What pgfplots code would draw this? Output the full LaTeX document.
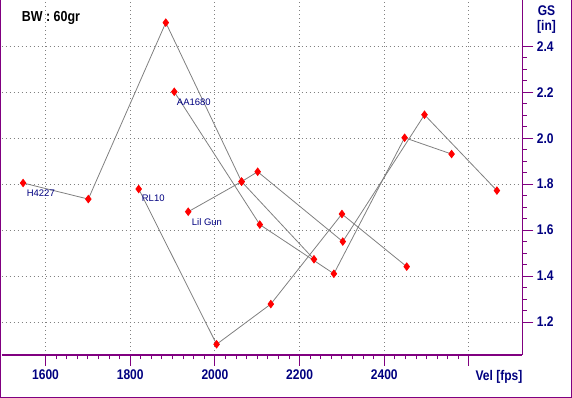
\documentclass[border=0pt]{standalone}
\usepackage{fontspec}
\setmainfont{Liberation Sans}
\newfontfamily\tickfont[FakeStretch=0.86]{Liberation Sans}
\usepackage{pgfplots}
\pgfplotsset{compat=1.18}
\definecolor{framec}{HTML}{800080}
\definecolor{navyc}{HTML}{000080}
\definecolor{linec}{HTML}{808080}
\begin{document}
\begin{tikzpicture}[x=1pt,y=1pt]
\path[use as bounding box] (0,0) rectangle (572,398);
\draw[framec, line width=1.3pt] (0.65,398) -- (0.65,0.65) -- (571.35,0.65) -- (571.35,398);
\begin{axis}[
  at={(1.5pt,43pt)}, anchor=south west,
  scale only axis, width=520.8pt, height=355pt,
  xmin=1496, xmax=2726, ymin=1.0564, ymax=2.6015,
  axis x line=bottom, axis y line=right,
  axis line style={framec, line width=1.3pt, -},
  xtick={1600,1800,2000,2200,2400,2600},
  xticklabels={1600,1800,2000,2200,2400,{}},
  ytick={1.2,1.4,1.6,1.8,2.0,2.2,2.4},
  minor x tick num=7, minor y tick num=3,
  tick align=outside,
  major tick length=11pt, minor tick length=4.5pt,
  every tick/.style={framec, line width=1pt},
  grid=major,
  major grid style={linec, dash pattern=on 1.2pt off 2.8pt, line width=1pt},
  /pgf/number format/assume math mode=true,
  ticklabel style={font=\tickfont\fontsize{14}{15}\selectfont\bfseries, text=navyc},
  yticklabel style={/pgf/number format/fixed, /pgf/number format/fixed zerofill, /pgf/number format/precision=1},
  clip=false,
]
\addplot[linec, line width=0.8pt, mark=diamond*, mark size=3.7pt, mark options={draw=red, fill=red, solid}] coordinates {
 (1547,1.805) (1701,1.735) (1884,2.503) (2063,1.811) (2234,1.473)};
\addplot[linec, line width=0.8pt, mark=diamond*, mark size=3.7pt, mark options={draw=red, fill=red, solid}] coordinates {
 (1904,2.202) (2106,1.624) (2281,1.410) (2448,2.002) (2559,1.931)};
\addplot[linec, line width=0.8pt, mark=diamond*, mark size=3.7pt, mark options={draw=red, fill=red, solid}] coordinates {
 (1937,1.680) (2063,1.811) (2101,1.854) (2302,1.550) (2495,2.102) (2666,1.772)};
\addplot[linec, line width=0.8pt, mark=diamond*, mark size=3.7pt, mark options={draw=red, fill=red, solid}] coordinates {
 (1820,1.779) (2004,1.103) (2132,1.278) (2300,1.670) (2453,1.441)};
\node[anchor=north west, inner sep=0pt, xshift=3.5pt, yshift=-6.5pt, font=\fontsize{9.5}{10}\selectfont, text=navyc] at (axis cs:1547,1.805) {H4227};
\node[anchor=north west, inner sep=0pt, xshift=2.5pt, yshift=-6.5pt, font=\fontsize{9.5}{10}\selectfont, text=navyc] at (axis cs:1904,2.202) {AA1680};
\node[anchor=north west, inner sep=0pt, xshift=3.5pt, yshift=-6.5pt, font=\fontsize{9.5}{10}\selectfont, text=navyc] at (axis cs:1937,1.680) {Lil Gun};
\node[anchor=north west, inner sep=0pt, xshift=3pt, yshift=-6pt, font=\fontsize{9.5}{10}\selectfont, text=navyc] at (axis cs:1820,1.779) {RL10};
\end{axis}
\node[anchor=north west, inner sep=0pt, font=\tickfont\fontsize{14.5}{15}\selectfont\bfseries] at (21.7,387.3) {BW : 60gr};
\node[inner sep=0pt, font=\tickfont\fontsize{14}{15}\selectfont\bfseries, text=navyc] at (546.5,387.5) {GS};
\node[inner sep=0pt, font=\tickfont\fontsize{14}{15}\selectfont\bfseries, text=navyc] at (546.5,371.5) {[in]};
\node[inner sep=0pt, font=\tickfont\fontsize{14}{15}\selectfont\bfseries, text=navyc] at (499,21) {Vel [fps]};
\end{tikzpicture}
\end{document}
